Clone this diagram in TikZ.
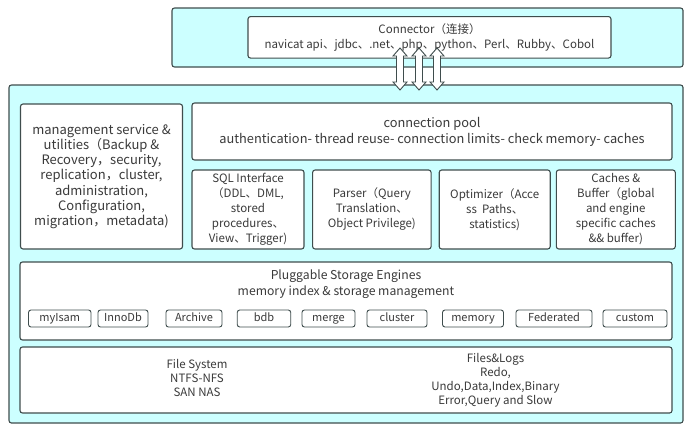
\documentclass[tikz,border=0pt]{standalone}
\usepackage{fontspec}
\setmainfont{Noto Sans CJK SC}
\usetikzlibrary{positioning}
\definecolor{layerfill}{HTML}{CCFFFF}
\definecolor{edgegray}{HTML}{3F4D4D}
\definecolor{textgray}{HTML}{3A3A3A}

\begin{document}
\begin{tikzpicture}[x=1pt,y=-1pt]
  \useasboundingbox (0,0) rectangle (692,431);
  \begin{scope}[
    every node/.style={
      rectangle,
      draw=edgegray,
      line width=1.1pt,
      rounded corners=2.5pt,
      inner sep=0pt,
      align=center,
      text=textgray,
      font=\fontsize{11.5}{15}\selectfont,
    },
    layer/.style={
      fill=layerfill,
    },
    block/.style={
      fill=white,
    },
    poolfont/.style={
      font=\fontsize{12.8}{16}\selectfont,
    },
    mgmtfont/.style={
      font=\fontsize{13}{15.3}\selectfont,
    },
    engine/.style={
      fill=white,
      line width=0.9pt,
      minimum height=17pt,
      text height=8pt,
      text depth=2.5pt,
      font=\fontsize{11}{12}\selectfont,
    },
    plain/.style={
      draw=none,
      fill=none,
    },
    titlefont/.style={
      font=\fontsize{12.2}{16}\selectfont,
    },
    smallfont/.style={
      font=\fontsize{11.5}{14}\selectfont,
    },
    ]
    % connector layer
    \node [layer,minimum width=511pt,minimum height=59pt] (connlayer) at (427.5,37.5) {};
    \node [block,minimum width=363pt,minimum height=41.5pt] (connector) at (429.5,37.3)
    {Connector（连接）\\navicat api、jdbc、.net、php、python、Perl、Rubby、Cobol};

    % server layer
    \node [layer,minimum width=674pt,minimum height=338pt] (server) at (346,254) {};

    % management
    \node [block,mgmtfont,minimum width=162pt,minimum height=145pt] (mgmt) at (101.5,176.5)
    {management service \&\\utilities（Backup \&\\Recovery，security,\\replication，cluster,\\administration,\\Configuration,\\migration，metadata)};

    % connection pool
    \node [block,poolfont,minimum width=480pt,minimum height=57pt] (pool) at (432,131.5)
    {connection pool\\authentication- thread reuse- connection limits- check memory- caches};

    % SQL interface
    \node [block,minimum width=112pt,minimum height=79pt] (sqlif) at (248,209.5)
    {SQL Interface\\（DDL、DML,\\stored\\procedures、\\View、Trigger)};

    % parser
    \node [block,minimum width=118.5pt,minimum height=79pt,right=7.5pt of sqlif] (parser)
    {Parser（Query\\Translation、\\Object Privilege)};

    % optimizer
    \node [block,minimum width=111pt,minimum height=79pt,right=7pt of parser] (optim)
    {Optimizer（Acce\\ss\ \ Paths、\\statistics)};

    % caches
    \node [block,minimum width=119pt,minimum height=79pt,right=5pt of optim] (caches)
    {Caches \&\\Buffer（global\\and engine\\specific caches\\\&\& buffer)};

    % storage engines
    \node [block,minimum width=652pt,minimum height=78pt] (engines) at (346,301) {};
    \node [plain,titlefont] (enginestitle) at (346,284.5)
    {Pluggable Storage Engines\\memory index \& storage management};
    \node [engine,minimum width=62.5pt] (myisam) at (59.75,318.5) {myIsam};
    \node [engine,minimum width=50pt] (innodb) at (123,318.5) {InnoDb};
    \node [engine,minimum width=56pt] (archive) at (194,318.5) {Archive};
    \node [engine,minimum width=53.5pt] (bdb) at (264,318.5) {bdb};
    \node [engine,minimum width=53pt] (merge) at (328.5,318.5) {merge};
    \node [engine,minimum width=60pt] (cluster) at (397,318.5) {cluster};
    \node [engine,minimum width=61pt] (memory) at (473,318.5) {memory};
    \node [engine,minimum width=76pt] (federated) at (554,318.5) {Federated};
    \node [engine,minimum width=64pt] (custom) at (635,318.5) {custom};

    % files
    \node [block,minimum width=652pt,minimum height=66pt] (files) at (346,380) {};
    \node [plain,smallfont] (fstext) at (197,378)
    {File System\\NTFS-NFS\\SAN NAS};
    \node [plain,smallfont] (logtext) at (495.5,380.5)
    {Files\&Logs\\Redo,\\Undo,Data,Index,Binary\\Error,Query and Slow};
  \end{scope}
  \begin{scope}[
    blockarrow/.style={
      draw=edgegray,
      fill=white,
      line width=0.9pt,
      line join=miter,
    },
    ]
    \coordinate (linkA) at (400,48);
    \coordinate (linkB) at (419,48);
    \coordinate (linkC) at (437,48);

    % connector to server
    \draw [blockarrow] (linkA) -- ++(7,8) -- ++(-3.5,0) -- ++(0,26) -- ++(3.5,0) -- ++(-7,8)
      -- ++(-7,-8) -- ++(3.5,0) -- ++(0,-26) -- ++(-3.5,0) -- cycle;
    \draw [blockarrow] (linkB) -- ++(7,8) -- ++(-3.5,0) -- ++(0,26) -- ++(3.5,0) -- ++(-7,8)
      -- ++(-7,-8) -- ++(3.5,0) -- ++(0,-26) -- ++(-3.5,0) -- cycle;
    \draw [blockarrow] (linkC) -- ++(7,8) -- ++(-3.5,0) -- ++(0,26) -- ++(3.5,0) -- ++(-7,8)
      -- ++(-7,-8) -- ++(3.5,0) -- ++(0,-26) -- ++(-3.5,0) -- cycle;
  \end{scope}
\end{tikzpicture}
\end{document}
